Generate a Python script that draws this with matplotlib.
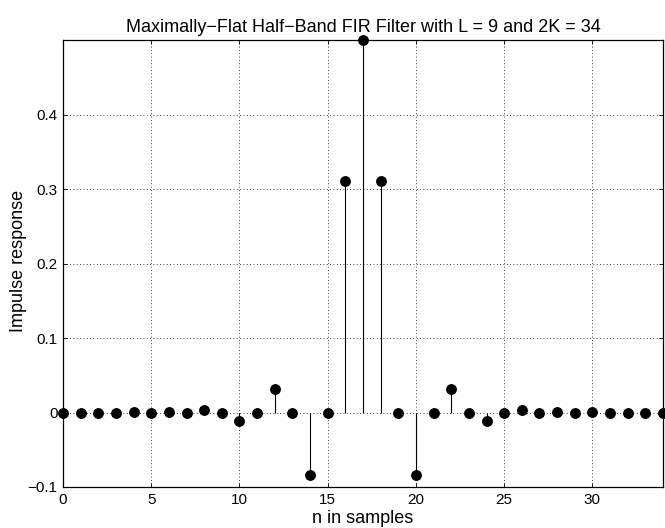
import matplotlib.pyplot as plt
import numpy as np

# impulse response of the half-band filter, n = 0..34
n = np.arange(0, 35)
h = [0.0, 0.0, 0.0, 0.0, 0.0001, 0.0, 0.0007, 0.0, 0.0033, 0.0, -0.0117,
     0.0, 0.0311, 0.0, -0.0834, 0.0, 0.3105, 0.5, 0.3105, 0.0, -0.0834,
     0.0, 0.0311, 0.0, -0.0117, 0.0, 0.0033, 0.0, 0.0007, 0.0, 0.0001,
     0.0, 0.0, 0.0, 0.0]
x_ticks = [0, 5, 10, 15, 20, 25, 30]
y_ticks = [-0.1, 0, 0.1, 0.2, 0.3, 0.4]
y_labels = ["\u22120.1", "0", "0.1", "0.2", "0.3", "0.4"]

plt.rcParams["font.family"] = ["Liberation Sans", "DejaVu Sans"]

fig = plt.figure(figsize=(6.65, 5.28), dpi=100)
ax = fig.add_axes([0.0947, 0.0777, 0.9023, 0.8460])

markers, stems, base = ax.stem(n, h, linefmt="k-", markerfmt="ko", basefmt=" ")
stems.set_linewidth(0.8)
markers.set_markersize(6.8)
markers.set_clip_on(False)

ax.set_xlim(0, 34)
ax.set_ylim(-0.1, 0.5)
ax.set_xticks(x_ticks)
ax.set_yticks(y_ticks)
ax.set_yticklabels(y_labels)
ax.tick_params(direction="in", length=3, width=0.6, labelsize=11,
               top=True, right=True, pad=4)
ax.grid(True, color="black", linestyle=(0, (1, 3)), linewidth=0.6)
for s in ax.spines.values():
    s.set_linewidth(0.9)

ax.set_xlabel("n in samples", fontsize=13)
ax.set_ylabel("Impulse response", fontsize=13)
ax.xaxis.set_label_coords(0.5, -0.052)
ax.yaxis.set_label_coords(-0.06, 0.505)
ax.set_title("Maximally\u2212Flat Half\u2212Band FIR Filter with L = 9 and 2K = 34",
             fontsize=13, pad=6)

fig.savefig("out.png", dpi=100)
